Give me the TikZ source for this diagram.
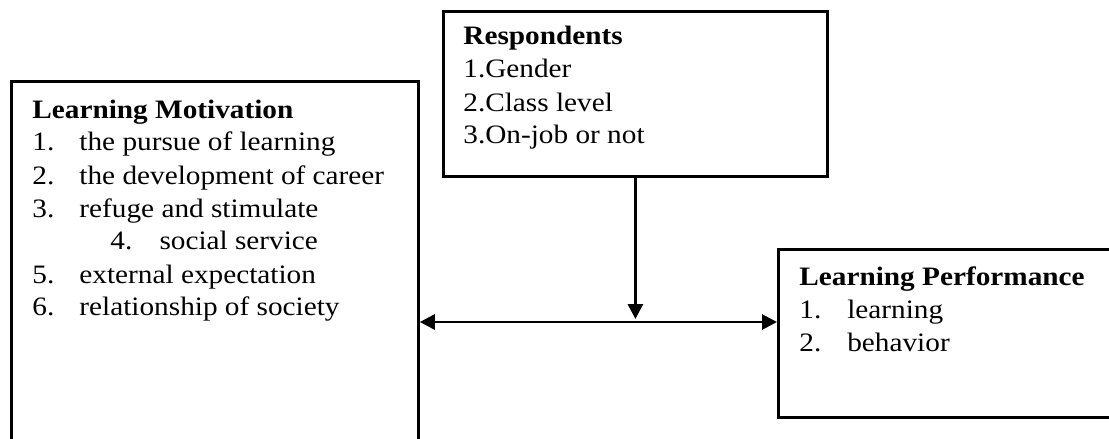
\documentclass[tikz,border=0pt]{standalone}
\usepackage{fontspec}
\usepackage{graphicx}
\setmainfont{Liberation Serif}
\usetikzlibrary{arrows.meta}
\tikzset{
    frame-box/.style = {draw, line width=1.4pt, rectangle, anchor=north west, inner sep=0pt},
    box-text/.style = {anchor=base west, inner sep=0pt, font=\fontsize{13.3}{16.5}\selectfont},
    link/.style = {line width=1.4pt, -{Triangle[length=7.5pt,width=7.5pt]}},
}
\newcommand{\widetext}[1]{\scalebox{1.1}[1]{#1}}

\begin{document}
\begin{tikzpicture}[x=0.5pt,y=-0.5pt]
\useasboundingbox (0,0) rectangle (1109,439);
\clip (0,0) rectangle (1109,439);
% frames
\node[frame-box, minimum width=203.5pt, minimum height=200pt] (motiv) at (10,80) {};
\node[frame-box, minimum width=192pt, minimum height=82.5pt] (resp) at (442,10) {};
\node[frame-box, minimum width=180pt, minimum height=84pt] (perf) at (777,248) {};
% contents
\node[box-text] (motiv-text) at ([shift={(22,38)}]motiv.north west) {\widetext{\begin{tabular}[t]{@{}l@{}l@{}}
    \multicolumn{2}{@{}l@{}}{\textbf{Learning Motivation}}\\
    \makebox[21.4pt][l]{1.} & the pursue of learning\\
    \makebox[21.4pt][l]{2.} & the development of career\\
    \makebox[21.4pt][l]{3.} & refuge and stimulate\\
    \multicolumn{2}{@{}l@{}}{\hspace*{35.5pt}\makebox[22.3pt][l]{4.}social service}\\
    \makebox[21.4pt][l]{5.} & external expectation\\
    \makebox[21.4pt][l]{6.} & relationship of society
\end{tabular}}};
\node[box-text] (resp-text) at ([shift={(21,35)}]resp.north west) {\widetext{\begin{tabular}[t]{@{}l@{}}
    \textbf{Respondents}\\
    1.Gender\\
    2.Class level\\
    3.On-job or not
\end{tabular}}};
\node[box-text] (perf-text) at ([shift={(22,37)}]perf.north west) {\widetext{\begin{tabular}[t]{@{}l@{}l@{}}
    \multicolumn{2}{@{}l@{}}{\textbf{Learning Performance}}\\
    \makebox[21.8pt][l]{1.} & learning\\
    \makebox[21.8pt][l]{2.} & behavior
\end{tabular}}};
% connectors
\coordinate (meet) at (resp.south |- 0,322);
\draw[link, {Triangle[length=7.5pt,width=7.5pt]}-{Triangle[length=7.5pt,width=7.5pt]}] (motiv.east |- meet) -- (perf.west |- meet);
\draw[link, shorten >=1.5pt] (resp.south) -- (meet);
\end{tikzpicture}
\end{document}
